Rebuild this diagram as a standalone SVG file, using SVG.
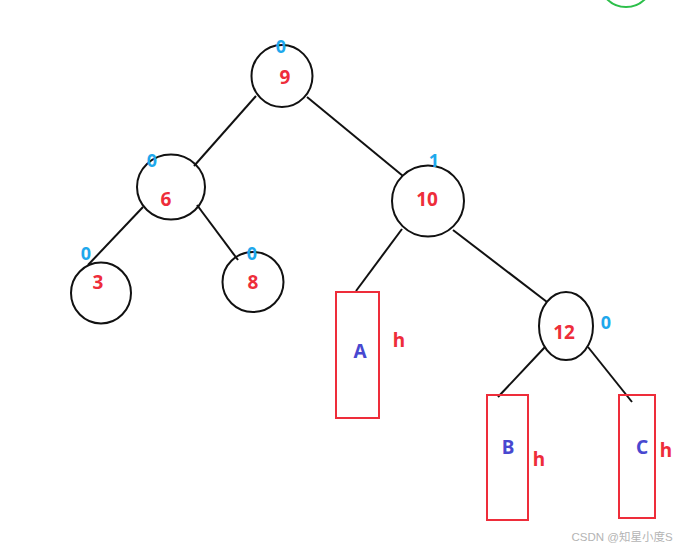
<svg xmlns="http://www.w3.org/2000/svg" width="683" height="551" viewBox="0 0 683 551">
<style>
.n{fill:none;stroke:#111;stroke-width:2}
.e line{stroke:#111;stroke-width:2}
.r{fill:none;stroke:#ee2d3a;stroke-width:2}
text{font-family:"Noto Sans","Open Sans",sans-serif;font-weight:bold;text-anchor:middle}
.v{fill:#ee2d3a;font-size:19px}
.b{fill:#1ea8ec;font-size:18px}
.l{fill:#4848d0;font-size:19px}
.h{fill:#ee2d3a;font-size:19px}
</style>
<rect width="683" height="551" fill="#fff"/>
<circle cx="626" cy="-20" r="27" fill="none" stroke="#2cbf4a" stroke-width="2"/>
<g class="e" id="edges">
<line x1="256" y1="96" x2="194" y2="166"/>
<line x1="307" y1="97" x2="403" y2="176"/>
<line x1="143" y1="207" x2="88" y2="265"/>
<line x1="197" y1="205" x2="238" y2="260"/>
<line x1="402" y1="229" x2="356" y2="291"/>
<line x1="453" y1="230" x2="547" y2="302"/>
<line x1="545" y1="347" x2="498" y2="397"/>
<line x1="588" y1="347" x2="632" y2="402"/>
</g>
<g id="n9"><ellipse class="n" cx="282" cy="76" rx="30.5" ry="31"/><text class="v" x="285" y="84">9</text><text class="b" x="281" y="53">0</text></g>
<g id="n6"><ellipse class="n" cx="171" cy="187" rx="34" ry="32.5"/><text class="v" x="166" y="206">6</text><text class="b" x="152" y="167">0</text></g>
<g id="n3"><ellipse class="n" cx="101" cy="293" rx="30" ry="30.5"/><text class="v" x="98" y="289">3</text><text class="b" x="86" y="260">0</text></g>
<g id="n8"><ellipse class="n" cx="253" cy="282" rx="30.5" ry="30"/><text class="v" x="253" y="289">8</text><text class="b" x="252" y="260">0</text></g>
<g id="n10"><ellipse class="n" cx="428" cy="201" rx="36" ry="35.5"/><text class="v" x="427" y="206">10</text><text class="b" x="434" y="167">1</text></g>
<g id="n12"><ellipse class="n" cx="566" cy="326" rx="27" ry="34"/><text class="v" x="564" y="339">12</text><text class="b" x="606" y="329">0</text></g>
<g id="A"><rect class="r" x="336" y="292" width="43" height="126"/><text class="l" x="360" y="358">A</text><text class="h" x="399" y="347">h</text></g>
<g id="B"><rect class="r" x="487" y="395" width="41" height="125"/><text class="l" x="508" y="454">B</text><text class="h" x="539" y="466">h</text></g>
<g id="C"><rect class="r" x="619" y="395" width="36" height="123"/><text class="l" x="642" y="454">C</text><text class="h" x="666" y="457">h</text></g>
<text x="622" y="541" style="font-family:'Liberation Sans','Noto Sans CJK SC',sans-serif;font-weight:normal;font-size:11.5px;fill:#b4b4b4">CSDN @知星小度S</text>
</svg>
